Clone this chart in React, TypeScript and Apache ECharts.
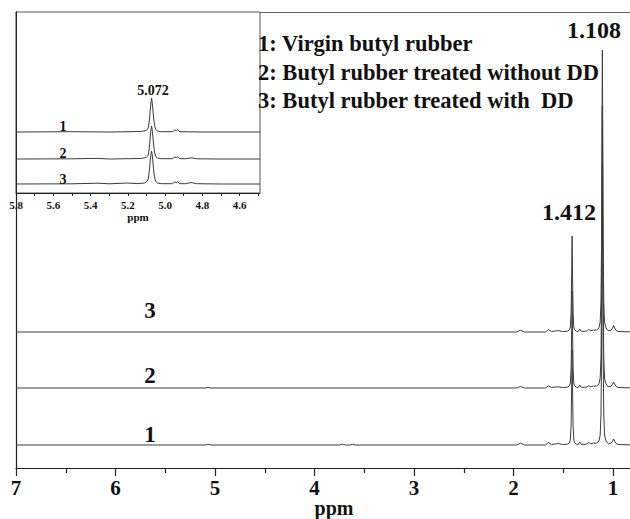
import React, { useEffect, useRef } from "react";
import * as echarts from "echarts";

// ---------- DATA ----------
// Main spectrum: [ppm, intensity]
const mainTrace1: number[][] = [
  [7, 0], [5.1, 0], [5.07, 0.8], [5.04, 0], [3.75, 0], [3.72, 0.8], [3.69, 0], [3.65, 0], [3.62, 0.7], [3.59, 0],
  [1.97, 0], [1.93, 1.8], [1.89, 0], [1.68, 0], [1.65, 2.5], [1.62, 0.5], [1.58, 1], [1.55, 1.5], [1.51, 0.5],
  [1.46, 0.8], [1.44, 2], [1.43, 5], [1.422, 20], [1.416, 60], [1.412, 95], [1.408, 60], [1.402, 20], [1.395, 5],
  [1.385, 2], [1.37, 0.8], [1.35, 0.6], [1.335, 3], [1.32, 0.6], [1.27, 0.8], [1.245, 2.5], [1.225, 1.2],
  [1.2, 2], [1.17, 1.8], [1.15, 3], [1.14, 5], [1.13, 10], [1.122, 30], [1.116, 90], [1.112, 200], [1.108, 280],
  [1.104, 200], [1.1, 90], [1.094, 30], [1.086, 10], [1.075, 5], [1.06, 2.5], [1.045, 1.2], [1.02, 2],
  [1.005, 4], [0.995, 6], [0.985, 4], [0.97, 1.5], [0.95, 0.5], [0.77, 0],
];
const mainTrace2: number[][] = [
  [7, 0], [5.1, 0], [5.07, 0.5], [5.04, 0], [1.97, 0], [1.93, 1.5], [1.89, 0], [1.68, 0], [1.65, 2.2],
  [1.62, 0.5], [1.58, 1], [1.55, 1.2], [1.51, 0.5], [1.46, 0.8], [1.44, 2], [1.43, 5], [1.422, 20], [1.416, 60],
  [1.412, 97], [1.408, 60], [1.402, 20], [1.395, 5], [1.385, 2], [1.37, 0.8], [1.35, 0.6], [1.335, 3],
  [1.32, 0.6], [1.27, 0.8], [1.245, 2.2], [1.225, 1.2], [1.2, 2], [1.17, 1.8], [1.15, 3], [1.14, 5], [1.13, 10],
  [1.122, 30], [1.116, 90], [1.112, 200], [1.108, 282], [1.104, 200], [1.1, 90], [1.094, 30], [1.086, 10],
  [1.075, 5], [1.06, 2.5], [1.045, 1.2], [1.02, 2], [1.005, 4], [0.995, 6], [0.985, 4], [0.97, 1.5],
  [0.95, 0.5], [0.77, 0],
];
const mainTrace3: number[][] = [
  [7, 0], [1.97, 0], [1.93, 1.8], [1.89, 0], [1.68, 0], [1.65, 2.5], [1.62, 0.5], [1.58, 1], [1.55, 1.5],
  [1.51, 0.5], [1.46, 0.8], [1.44, 2], [1.43, 5], [1.422, 20], [1.416, 60], [1.412, 96], [1.408, 60],
  [1.402, 20], [1.395, 5], [1.385, 2], [1.37, 0.8], [1.35, 0.6], [1.335, 3], [1.32, 0.6], [1.27, 0.8],
  [1.245, 2.5], [1.225, 1.2], [1.2, 2], [1.17, 1.8], [1.15, 3], [1.14, 5], [1.13, 10], [1.122, 30],
  [1.116, 90], [1.112, 200], [1.108, 282], [1.104, 200], [1.1, 90], [1.094, 30], [1.086, 10], [1.075, 5],
  [1.06, 2.5], [1.045, 1.2], [1.02, 2], [1.005, 4], [0.995, 6.5], [0.985, 4], [0.97, 1.5], [0.95, 0.5],
  [0.77, 0],
];

// Inset spectrum (5.8 - 4.5 ppm): [ppm, intensity]
const insetTrace1: number[][] = [
  [5.8, 0], [5.5, 0.3], [5.3, 0], [5.13, 0.5], [5.1, 1.5], [5.09, 4], [5.085, 10], [5.08, 20], [5.076, 28],
  [5.072, 34], [5.068, 28], [5.064, 20], [5.06, 12], [5.055, 6], [5.05, 2.5], [5.04, 1], [5.02, 0.3],
  [4.96, 0.3], [4.947, 2.2], [4.94, 1.2], [4.933, 2.2], [4.92, 0.3], [4.8, 0], [4.49, 0],
];
const insetTrace2: number[][] = [
  [5.8, 0], [5.5, 0.2], [5.36, 0.6], [5.3, 0], [5.13, 0.5], [5.1, 1.5], [5.09, 4], [5.085, 10], [5.08, 20],
  [5.076, 28], [5.072, 33], [5.068, 28], [5.064, 20], [5.06, 12], [5.055, 6], [5.05, 2.5], [5.04, 1],
  [5.02, 0.3], [4.96, 0.3], [4.947, 2.2], [4.94, 1.2], [4.933, 2.2], [4.92, 0.3], [4.89, 0.3], [4.86, 1.2],
  [4.83, 0.2], [4.7, 0], [4.49, 0],
];
const insetTrace3: number[][] = [
  [5.8, 0], [5.5, 0.2], [5.36, 0.8], [5.3, 0.2], [5.2, 1], [5.15, 0.4], [5.11, 1], [5.1, 2], [5.09, 5],
  [5.085, 12], [5.08, 22], [5.076, 29], [5.072, 33], [5.068, 28], [5.064, 20], [5.06, 12], [5.055, 6],
  [5.05, 2.5], [5.04, 1], [5.02, 0.3], [4.96, 0.3], [4.947, 2.2], [4.94, 1.2], [4.933, 2.2], [4.92, 0.3],
  [4.89, 0.3], [4.86, 1.5], [4.83, 0.3], [4.7, 0], [4.49, 0],
];

const mainTickLabels = [1, 2, 3, 4, 5, 6, 7];
const mainMinorTicks = [1.5, 2.5, 3.5, 4.5, 5.5, 6.5];
const insetTickLabels = [4.6, 4.8, 5.0, 5.2, 5.4, 5.6, 5.8];
const insetTicks = [4.5, 4.6, 4.7, 4.8, 4.9, 5.0, 5.1, 5.2, 5.3, 5.4, 5.5, 5.6, 5.7, 5.8];
const legendLines = [
  "1: Virgin butyl rubber",
  "2: Butyl rubber treated without DD",
  "3: Butyl rubber treated with  DD",
];
const peakLabels = ["1.108", "1.412"];
const insetPeakLabel = "5.072";

// ---------- LAYOUT ----------
const mainOffsets = [23, 80, 136];
const insetOffsets = [61, 34, 9];
const FONT = '"Liberation Serif", "Times New Roman", serif';
const LINE = "#3c3c3c";
const AXIS = "#222";
const MAIN_MIN = 0.77;
const MAIN_MAX = 7;

const shift = (d: number[][], off: number) => d.map(([x, y]) => [x, y + off]);

export default function App() {
  const ref = useRef<HTMLDivElement>(null);
  useEffect(() => {
    if (!ref.current) return;
    const chart = echarts.init(ref.current, null, { renderer: "svg" });
    const lineSeries = (data: number[][], xi: number, yi: number) => ({
      type: "line",
      xAxisIndex: xi,
      yAxisIndex: yi,
      data,
      showSymbol: false,
      symbol: "none",
      lineStyle: { color: LINE, width: 1 },
      silent: true,
    });
    const txt = (text: string, x: number, y: number, size: number, align = "center") => ({
      type: "text",
      x,
      y,
      z: 100,
      style: {
        text,
        font: `bold ${size}px ${FONT}`,
        fill: "#111",
        align,
        verticalAlign: "middle",
      },
    });
    chart.setOption({
      animation: false,
      backgroundColor: "#fff",
      grid: [
        { left: 16, top: 12, width: 620, height: 456, show: false, containLabel: false, outerBoundsMode: "none" },
        { left: 16, top: 12, width: 244, height: 181, show: true, borderColor: "#555", borderWidth: 1, backgroundColor: "#fff", z: 5, containLabel: false, outerBoundsMode: "none" },
      ],
      xAxis: [
        {
          type: "value", gridIndex: 0, min: MAIN_MIN, max: MAIN_MAX, inverse: true, position: "bottom",
          axisLine: { show: true, lineStyle: { color: AXIS, width: 1.2 } },
          axisTick: { show: true, customValues: mainTickLabels, length: 8, inside: false, lineStyle: { color: AXIS, width: 1.2 } },
          axisLabel: { show: true, customValues: mainTickLabels, margin: 9, fontFamily: FONT, fontWeight: "bold", fontSize: 21, color: "#111" },
          splitLine: { show: false },
        },
        {
          type: "value", gridIndex: 0, min: MAIN_MIN, max: MAIN_MAX, inverse: true, position: "bottom",
          axisLine: { show: false },
          axisTick: { show: true, customValues: mainMinorTicks, length: 5, inside: false, lineStyle: { color: AXIS, width: 1.2 } },
          axisLabel: { show: false },
          splitLine: { show: false },
        },
        {
          type: "value", gridIndex: 0, min: MAIN_MIN, max: MAIN_MAX, inverse: true, position: "top",
          axisLine: { show: true, lineStyle: { color: "#666", width: 1 } },
          axisTick: { show: false },
          axisLabel: { show: false },
          splitLine: { show: false },
        },
        {
          type: "value", gridIndex: 1, min: 4.49, max: 5.8, inverse: true, position: "bottom",
          axisLine: { show: true, lineStyle: { color: AXIS, width: 1 } },
          axisTick: { show: true, customValues: insetTicks, length: 3, inside: false, lineStyle: { color: AXIS, width: 1 } },
          axisLabel: {
            show: true, customValues: insetTickLabels, margin: 6, fontFamily: FONT, fontWeight: "bold", fontSize: 11, color: "#111",
            formatter: (v: number) => v.toFixed(1),
          },
          splitLine: { show: false },
          z: 6,
        },
      ],
      yAxis: [
        {
          type: "value", gridIndex: 0, min: 0, max: 456, position: "left",
          axisLine: { show: true, lineStyle: { color: AXIS, width: 1.2 } },
          axisTick: { show: false }, axisLabel: { show: false }, splitLine: { show: false },
        },
        {
          type: "value", gridIndex: 1, min: 0, max: 181, position: "left",
          axisLine: { show: true, lineStyle: { color: AXIS, width: 1 } },
          axisTick: { show: false }, axisLabel: { show: false }, splitLine: { show: false },
          z: 6,
        },
      ],
      series: [
        lineSeries(shift(mainTrace1, mainOffsets[0]), 0, 0),
        lineSeries(shift(mainTrace2, mainOffsets[1]), 0, 0),
        lineSeries(shift(mainTrace3, mainOffsets[2]), 0, 0),
        { ...lineSeries(shift(insetTrace1, insetOffsets[0]), 3, 1), z: 7 },
        { ...lineSeries(shift(insetTrace2, insetOffsets[1]), 3, 1), z: 7 },
        { ...lineSeries(shift(insetTrace3, insetOffsets[2]), 3, 1), z: 7 },
      ],
      graphic: [
        txt(legendLines[0], 258, 43, 22.5, "left"),
        txt(legendLines[1], 258, 72, 22.5, "left"),
        txt(legendLines[2], 258, 100, 22.5, "left"),
        txt(peakLabels[0], 594, 30, 24),
        txt(peakLabels[1], 569, 212, 24),
        txt("3", 150, 310, 23),
        txt("2", 150, 375, 23),
        txt("1", 150, 434, 23),
        txt("ppm", 334, 508, 20),
        txt(insetPeakLabel, 153, 90, 14),
        txt("1", 63, 126, 14),
        txt("2", 63, 153, 14),
        txt("3", 63, 179, 14),
        txt("ppm", 138, 217, 11),
      ],
    });
    return () => chart.dispose();
  }, []);
  return <div ref={ref} style={{ width: 630, height: 519, position: "absolute", left: 0, top: 0 }} />;
}
